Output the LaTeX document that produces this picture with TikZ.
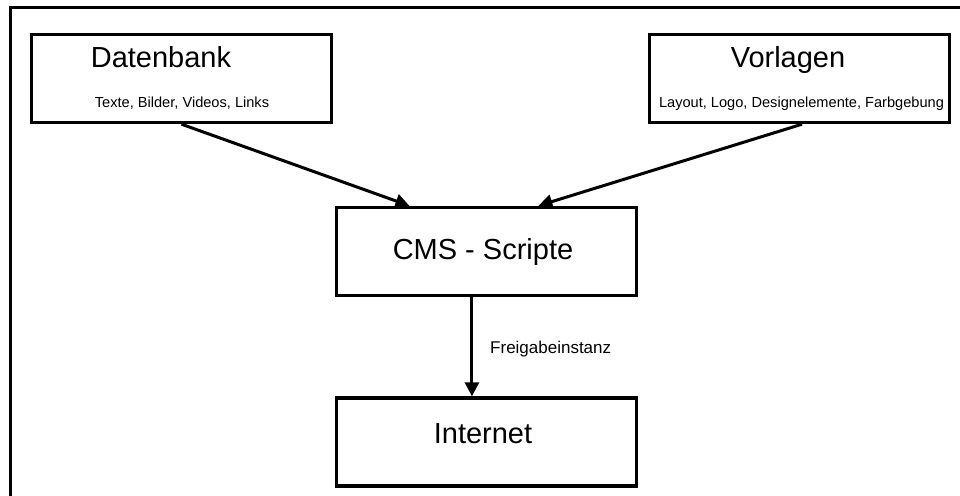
\documentclass[tikz,border=0pt]{standalone}
\usepackage{fontspec}
\setmainfont{Liberation Sans}
\usetikzlibrary{arrows.meta,calc}
\begin{document}
\begin{tikzpicture}[x=1pt,y=-1pt,
  box/.style={draw=black,line width=3.4pt,minimum width=300pt,minimum height=88pt,inner sep=0pt},
  title/.style={font=\fontsize{29}{32}\selectfont,inner sep=0pt,anchor=base},
  sub/.style={font=\fontsize{14.6}{17}\selectfont,inner sep=0pt,anchor=base},
  arr/.style={line width=3pt,-{Triangle[length=14pt,width=14pt]}}]
\useasboundingbox (0,0) rectangle (960,495);
\fill[white] (0,0) rectangle (960,495);
% outer frame (top and left only visible)
\draw[line width=3pt,line cap=rect] (960,7.5) -- (10.5,7.5) -- (10.5,495);
% boxes
\node[box] (db) at (181.5,78.5) {};
\node[box] (vl) at (799.5,78.5) {};
\node[box] (cms) at (486.5,251.5) {};
\node[box] (inet) at (486.5,442) {};
% texts
\node[title] (dbt) at (161,67) {Datenbank};
\node[sub] (dbs) at (182,107) {Texte, Bilder, Videos, Links};
\node[title] (vlt) at (788,67) {Vorlagen};
\node[sub] (vls) at (801.5,107) {Layout, Logo, Designelemente, Farbgebung};
\node[title] (cmst) at (483,259) {CMS - Scripte};
\node[title] (inett) at (483,443) {Internet};
% connectors
\draw[arr] (db.south) -- ($(cms.north west)!0.246!(cms.north east)$);
\draw[arr] ($(vl.south)+(2.5,0)$) -- ($(cms.north west)!0.671!(cms.north east)$);
\draw[arr] ($(cms.south west)!0.452!(cms.south east)$) -- ($(inet.north west)!0.452!(inet.north east)$);
\node[font=\fontsize{17}{20}\selectfont,anchor=base west,inner sep=0pt] (fg) at (490,353) {Freigabeinstanz};
\end{tikzpicture}
\end{document}
